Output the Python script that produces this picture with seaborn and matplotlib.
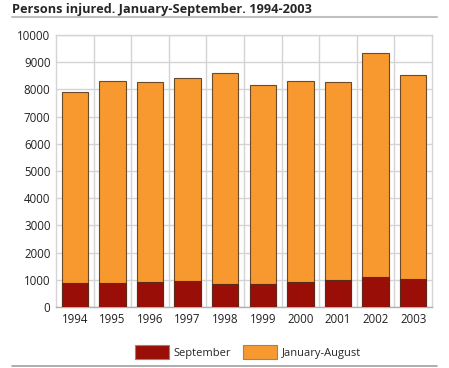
import pandas as pd
import seaborn as sns
import matplotlib.pyplot as plt
from matplotlib.lines import Line2D

years = ["1994", "1995", "1996", "1997", "1998", "1999", "2000", "2001", "2002", "2003"]
september = [880, 890, 935, 970, 836, 862, 930, 982, 1090, 1030]
jan_aug = [7010, 7406, 7324, 7437, 7757, 7286, 7366, 7288, 8243, 7489]

df = pd.DataFrame({"year": years, "September": september, "January-August": jan_aug})
df["total"] = df["September"] + df["January-August"]

sns.set_style("white")
plt.rcParams["font.family"] = ["Open Sans", "DejaVu Sans"]

fig = plt.figure(figsize=(4.49, 3.68), dpi=100)
ax = fig.add_axes([56 / 449, 1 - 307 / 368, 376 / 449, 272 / 368])

orange = "#F7992F"
red = "#990F07"
sns.barplot(data=df, x="year", y="total", color=orange, width=0.7,
            edgecolor="#6b4a2a", linewidth=0.8, saturation=1, ax=ax, zorder=3)
sns.barplot(data=df, x="year", y="September", color=red, width=0.7,
            edgecolor="#5a2a1a", linewidth=0.8, saturation=1, ax=ax, zorder=4)

ax.set_ylim(0, 10000)
ax.set_xlim(-0.5, len(years) - 0.5)
ax.set_yticks(range(0, 10001, 1000))
ax.set_xticks([i + 0.5 for i in range(len(years) - 1)], minor=True)
ax.grid(True, axis="y", color="#d4d4d4", linewidth=1, zorder=0)
ax.grid(True, axis="x", which="minor", color="#d4d4d4", linewidth=1, zorder=0)
ax.set_axisbelow(True)
for s in ax.spines.values():
    s.set_color("#d4d4d4")
    s.set_linewidth(1)
ax.spines["bottom"].set_color("#b0b0b0")
ax.tick_params(axis="both", which="both", length=0, labelsize=8.3, colors="#222222", pad=4)
ax.set_xlabel("")
ax.set_ylabel("")

fig.text(12 / 449, 1 - 10 / 368, "Persons injured. January-September. 1994-2003",
         fontsize=9.2, fontweight="bold", va="center", ha="left")
fig.add_artist(Line2D([12 / 449, 437 / 449], [1 - 17 / 368, 1 - 17 / 368], color="#c0c0c0", linewidth=1.5))
fig.add_artist(Line2D([12 / 449, 437 / 449], [1 - 366 / 368, 1 - 366 / 368], color="#a0a0a0", linewidth=1.2))

handles = [plt.Rectangle((0, 0), 1, 1, facecolor=red, edgecolor="#888888", linewidth=0.8),
           plt.Rectangle((0, 0), 1, 1, facecolor=orange, edgecolor="#888888", linewidth=0.8)]
fig.legend(handles, ["September", "January-August"], loc="center", ncol=2,
           bbox_to_anchor=(248 / 449, 1 - 352 / 368), frameon=False, fontsize=8,
           handlelength=3.0, handleheight=1.6, columnspacing=1.1, handletextpad=0.45)

fig.savefig("out.png", dpi=100)
